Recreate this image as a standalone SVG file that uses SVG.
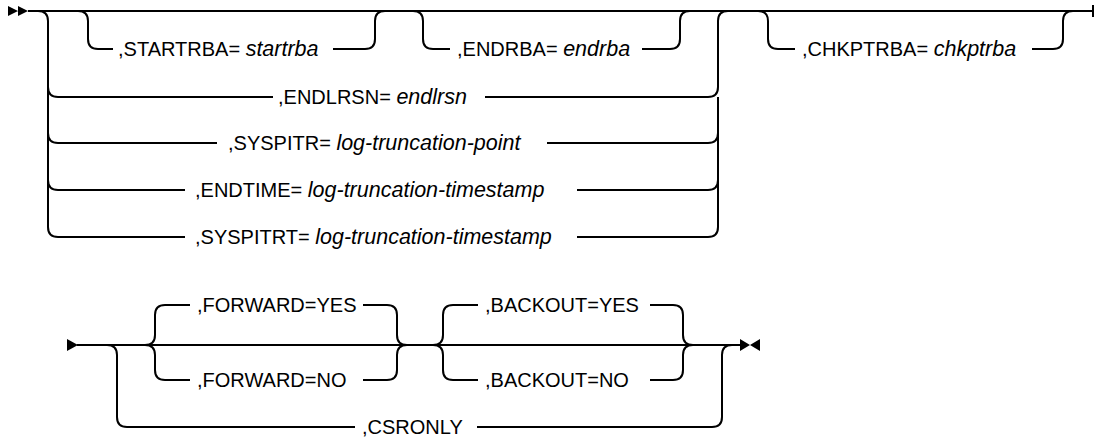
<svg xmlns="http://www.w3.org/2000/svg" width="1097" height="444" viewBox="0 0 1097 444">
<style>
.l{fill:none;stroke:#000;stroke-width:2}
.t{font-family:"Liberation Sans",Arial,sans-serif;font-size:20px;fill:#000}
.i{font-style:italic;font-size:21.5px}
.a{fill:#000}
</style>
<rect width="1097" height="444" fill="#fff"/>
<g id="connectors">
<path class="l" d="M28,11 H1093"/>
<path class="l" d="M1093,5 V17"/>
<path class="l" d="M38,11 Q48,11 48,21 V227 Q48,237 58,237"/>
<path class="l" d="M48,87 Q48,97 58,97 H273"/>
<path class="l" d="M48,133 Q48,143 58,143 H217"/>
<path class="l" d="M48,180 Q48,190 58,190 H185"/>
<path class="l" d="M58,237 H185"/>
<path class="l" d="M485,97 H708 Q718,97 718,87 V21 Q718,11 728,11"/>
<path class="l" d="M547,143 H708 Q718,143 718,133"/>
<path class="l" d="M577,190 H708 Q718,190 718,180"/>
<path class="l" d="M577,237 H708 Q718,237 718,227 V97"/>
<path class="l" d="M78,11 Q88,11 88,21 V39 Q88,49 98,49 H113"/>
<path class="l" d="M333,49 H365 Q375,49 375,39 V21 Q375,11 385,11"/>
<path class="l" d="M413,11 Q423,11 423,21 V39 Q423,49 433,49 H450"/>
<path class="l" d="M642,49 H670 Q680,49 680,39 V21 Q680,11 690,11"/>
<path class="l" d="M758,11 Q768,11 768,21 V39 Q768,49 778,49 H795"/>
<path class="l" d="M1032,49 H1053 Q1063,49 1063,39 V21 Q1063,11 1073,11"/>
<path class="l" d="M77,345 H740"/>
<path class="l" d="M107,345 Q117,345 117,355 V417 Q117,427 127,427 H355"/>
<path class="l" d="M477,427 H712 Q722,427 722,417 V355 Q722,345 732,345"/>
<path class="l" d="M145,345 Q155,345 155,335 V315 Q155,305 165,305 H190"/>
<path class="l" d="M145,345 Q155,345 155,355 V370 Q155,380 165,380 H190"/>
<path class="l" d="M363,305 H387 Q397,305 397,315 V335 Q397,345 407,345"/>
<path class="l" d="M363,380 H387 Q397,380 397,370 V355 Q397,345 407,345"/>
<path class="l" d="M433,345 Q443,345 443,335 V315 Q443,305 453,305 H478"/>
<path class="l" d="M433,345 Q443,345 443,355 V370 Q443,380 453,380 H478"/>
<path class="l" d="M650,305 H673 Q683,305 683,315 V335 Q683,345 693,345"/>
<path class="l" d="M650,380 H673 Q683,380 683,370 V355 Q683,345 693,345"/>
</g>
<g id="start-top"><path class="a" d="M8,6 L18,11 L8,16 Z M18,6 L28,11 L18,16 Z"/></g>
<g id="start-bottom"><path class="a" d="M67,339 L78,345 L67,351 Z"/></g>
<g id="end-bottom"><path class="a" d="M740,339 L750,345 L740,351 Z M760,339 L750,345 L760,351 Z"/></g>
<g id="startrba"><text class="t" x="118" y="56">,STARTRBA= <tspan class="i">startrba</tspan></text></g>
<g id="endrba"><text class="t" x="457" y="56">,ENDRBA= <tspan class="i">endrba</tspan></text></g>
<g id="chkptrba"><text class="t" x="802" y="56">,CHKPTRBA= <tspan class="i">chkptrba</tspan></text></g>
<g id="endlrsn"><text class="t" x="278" y="104">,ENDLRSN= <tspan class="i">endlrsn</tspan></text></g>
<g id="syspitr"><text class="t" x="228" y="150">,SYSPITR= <tspan class="i">log-truncation-point</tspan></text></g>
<g id="endtime"><text class="t" x="195" y="197">,ENDTIME= <tspan class="i">log-truncation-timestamp</tspan></text></g>
<g id="syspitrt"><text class="t" x="195" y="244">,SYSPITRT= <tspan class="i">log-truncation-timestamp</tspan></text></g>
<g id="forward-yes"><text class="t" x="197" y="312">,FORWARD=YES</text></g>
<g id="forward-no"><text class="t" x="197" y="387">,FORWARD=NO</text></g>
<g id="backout-yes"><text class="t" x="485" y="312">,BACKOUT=YES</text></g>
<g id="backout-no"><text class="t" x="485" y="387">,BACKOUT=NO</text></g>
<g id="csronly"><text class="t" x="362" y="434">,CSRONLY</text></g>
</svg>
